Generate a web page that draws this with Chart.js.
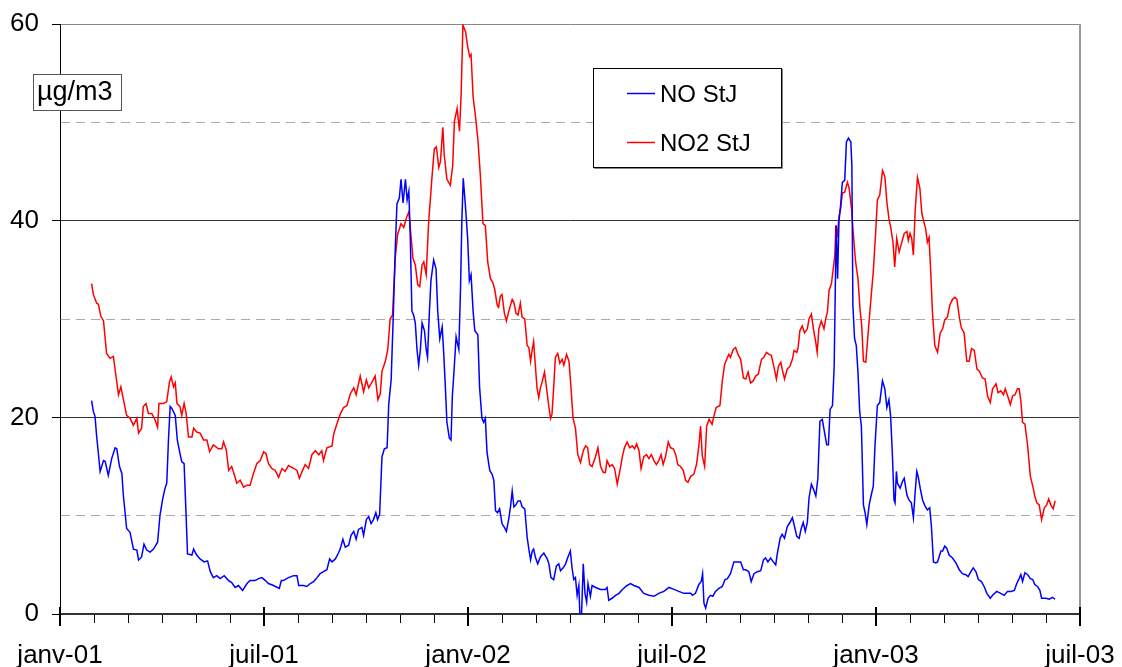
<!DOCTYPE html>
<html>
<head>
<meta charset="utf-8">
<script src="https://cdn.jsdelivr.net/npm/chart.js@4.4.1/dist/chart.umd.min.js"></script>
<style>
  body { margin: 0; background: #fff; }
  #wrap { width: 1122px; height: 667px; }
</style>
</head>
<body>
<div id="wrap"><canvas id="myChart" width="1122" height="667"></canvas></div>
<script>
// x values are months counted from janv-01 (0 = 1 Jan 2001)
var xTickLabels = ['janv-01', 'juil-01', 'janv-02', 'juil-02', 'janv-03', 'juil-03'];
var yTickLabels = [0, 20, 40, 60];
var unitLabel = 'µg/m3';

var noLabel = 'NO StJ';
var noMonths = [
    0.93, 0.98, 1.03, 1.08, 1.13, 1.18, 1.28, 1.33, 1.42, 1.52, 1.62, 1.67, 1.75, 1.82, 1.86, 1.96,
    2.06, 2.16, 2.26, 2.31, 2.40, 2.47, 2.55, 2.65, 2.75, 2.87, 2.94, 3.02, 3.09, 3.14, 3.19, 3.24,
    3.29, 3.39, 3.45, 3.53, 3.58, 3.65, 3.71, 3.75, 3.88, 3.93, 4.02, 4.12, 4.24, 4.34, 4.42, 4.51,
    4.61, 4.71, 4.83, 4.96, 5.05, 5.15, 5.25, 5.37, 5.50, 5.59, 5.74, 5.84, 5.94, 6.04, 6.13, 6.28,
    6.45, 6.51, 6.57, 6.72, 6.87, 6.97, 7.02, 7.16, 7.26, 7.36, 7.46, 7.56, 7.65, 7.75, 7.85, 7.93,
    8.00, 8.10, 8.19, 8.24, 8.32, 8.39, 8.49, 8.56, 8.64, 8.71, 8.78, 8.88, 8.93, 9.01, 9.08, 9.15,
    9.22, 9.29, 9.34, 9.40, 9.47, 9.54, 9.62, 9.67, 9.74, 9.81, 9.86, 9.91, 9.98, 10.03, 10.09, 10.16,
    10.21, 10.26, 10.30, 10.35, 10.40, 10.45, 10.50, 10.55, 10.60, 10.65, 10.72, 10.77, 10.81, 10.86, 10.91, 10.99,
    11.06, 11.11, 11.17, 11.24, 11.28, 11.33, 11.38, 11.45, 11.50, 11.54, 11.58, 11.65, 11.73, 11.78, 11.82, 11.86,
    11.92, 11.99, 12.04, 12.09, 12.15, 12.20, 12.29, 12.34, 12.41, 12.46, 12.51, 12.56, 12.64, 12.71, 12.76, 12.81,
    12.87, 12.93, 13.00, 13.07, 13.13, 13.20, 13.25, 13.30, 13.35, 13.41, 13.47, 13.54, 13.59, 13.67, 13.74, 13.79,
    13.84, 13.89, 13.93, 13.98, 14.05, 14.13, 14.23, 14.33, 14.38, 14.44, 14.52, 14.60, 14.67, 14.72, 14.80, 14.87,
    14.94, 15.01, 15.06, 15.11, 15.16, 15.21, 15.26, 15.29, 15.34, 15.39, 15.44, 15.49, 15.53, 15.60, 15.65, 15.75,
    15.90, 16.04, 16.09, 16.14, 16.24, 16.34, 16.44, 16.54, 16.68, 16.78, 16.88, 17.03, 17.17, 17.32, 17.47, 17.61,
    17.76, 17.91, 18.06, 18.20, 18.35, 18.55, 18.60, 18.69, 18.79, 18.86, 18.90, 18.94, 18.99, 19.06, 19.13, 19.20,
    19.28, 19.38, 19.48, 19.56, 19.63, 19.72, 19.82, 19.92, 20.02, 20.10, 20.17, 20.26, 20.33, 20.41, 20.51, 20.61,
    20.69, 20.75, 20.82, 20.90, 20.98, 21.05, 21.10, 21.18, 21.24, 21.31, 21.39, 21.47, 21.54, 21.59, 21.67, 21.74,
    21.80, 21.86, 21.92, 21.98, 22.03, 22.10, 22.16, 22.23, 22.29, 22.35, 22.42, 22.49, 22.55, 22.60, 22.65, 22.72,
    22.77, 22.80, 22.83, 22.87, 22.91, 22.96, 23.01, 23.08, 23.13, 23.19, 23.26, 23.29, 23.32, 23.37, 23.42, 23.47,
    23.52, 23.57, 23.63, 23.68, 23.73, 23.80, 23.86, 23.92, 23.97, 24.04, 24.11, 24.19, 24.26, 24.32, 24.38, 24.43,
    24.48, 24.53, 24.56, 24.60, 24.63, 24.71, 24.78, 24.83, 24.91, 24.97, 25.04, 25.10, 25.15, 25.20, 25.24, 25.30,
    25.37, 25.44, 25.51, 25.58, 25.63, 25.69, 25.76, 25.81, 25.91, 25.96, 26.02, 26.08, 26.15, 26.25, 26.35, 26.45,
    26.54, 26.64, 26.71, 26.79, 26.86, 26.94, 27.01, 27.10, 27.18, 27.26, 27.36, 27.43, 27.55, 27.67, 27.77, 27.87,
    27.97, 28.07, 28.14, 28.21, 28.26, 28.31, 28.38, 28.46, 28.54, 28.61, 28.67, 28.75, 28.82, 28.87, 29.00, 29.10,
    29.19, 29.27
];
var noValues = [
    21.7, 20.6, 20.1, 18.0, 16.3, 14.5, 15.6, 15.5, 14.1, 15.8, 16.9, 16.8, 15.0, 14.3, 12.2, 8.7,
    8.3, 6.6, 6.5, 5.5, 5.8, 7.1, 6.5, 6.3, 6.6, 7.3, 10.0, 11.7, 12.8, 13.3, 17.7, 21.1,
    20.9, 20.2, 17.7, 16.3, 15.5, 15.3, 9.9, 6.1, 6.0, 6.6, 6.0, 5.6, 5.3, 5.4, 4.3, 3.7,
    3.9, 3.6, 3.9, 3.4, 3.2, 2.7, 2.9, 2.4, 3.1, 3.4, 3.4, 3.6, 3.7, 3.4, 3.1, 2.9,
    2.6, 3.4, 3.4, 3.7, 3.9, 3.9, 2.9, 2.9, 2.8, 3.1, 3.3, 3.7, 4.1, 4.3, 4.5, 5.6,
    5.3, 5.6, 6.2, 6.6, 7.6, 6.8, 7.0, 8.0, 8.4, 7.6, 8.6, 8.8, 8.0, 9.6, 9.9, 9.2,
    9.6, 10.3, 9.6, 10.1, 16.0, 16.8, 16.9, 21.4, 23.8, 31.2, 37.0, 41.7, 42.3, 44.2, 41.8, 44.2,
    42.1, 43.0, 38.6, 30.8, 30.4, 29.6, 26.9, 25.3, 26.9, 29.6, 28.8, 26.9, 26.1, 30.4, 33.9, 36.0,
    35.1, 30.8, 28.0, 29.2, 26.9, 23.4, 19.5, 17.9, 17.7, 22.2, 24.2, 28.2, 26.9, 33.1, 40.1, 44.3,
    41.7, 38.2, 33.9, 34.5, 30.8, 28.8, 28.4, 23.1, 19.9, 19.5, 19.9, 16.4, 14.6, 14.2, 13.6, 10.5,
    10.3, 10.7, 9.2, 8.8, 8.4, 9.7, 10.9, 12.5, 10.9, 11.1, 11.5, 11.5, 10.9, 10.7, 7.8, 6.6,
    5.5, 6.4, 6.6, 5.8, 5.1, 5.8, 6.2, 5.6, 5.1, 3.7, 3.5, 4.9, 5.1, 4.4, 4.7, 5.1,
    5.8, 6.4, 4.7, 3.5, 3.7, 1.9, 2.9, 0.0, 0.0, 5.1, 2.1, 1.2, 3.1, 1.8, 2.9, 2.7,
    2.5, 2.5, 2.7, 1.4, 1.6, 1.9, 2.1, 2.5, 2.9, 3.1, 2.9, 2.7, 2.1, 1.9, 1.8, 2.1,
    2.3, 2.7, 2.5, 2.3, 2.1, 2.1, 1.9, 2.1, 3.0, 3.3, 4.1, 1.1, 0.6, 1.6, 1.9, 1.8,
    2.3, 2.6, 2.8, 3.5, 3.6, 4.1, 5.3, 5.3, 5.3, 4.5, 4.5, 4.3, 3.3, 4.1, 4.3, 4.4,
    5.5, 5.7, 5.3, 5.7, 5.3, 5.0, 6.2, 7.7, 8.1, 7.7, 8.9, 9.3, 9.8, 9.1, 7.9, 7.7,
    8.7, 9.3, 8.4, 9.3, 11.8, 13.2, 12.7, 12.0, 13.8, 19.6, 19.8, 18.4, 17.2, 17.2, 20.8, 21.2,
    25.2, 32.4, 39.5, 34.1, 39.9, 41.6, 43.9, 44.1, 48.0, 48.4, 48.0, 45.6, 31.4, 28.0, 27.3, 24.6,
    20.6, 19.1, 11.1, 10.3, 9.1, 11.1, 12.1, 13.0, 17.1, 21.2, 21.5, 23.7, 22.9, 21.0, 21.8, 20.1,
    16.4, 11.6, 11.3, 14.5, 13.3, 12.8, 13.5, 13.8, 12.1, 11.6, 11.3, 9.8, 12.3, 14.5, 14.0, 12.8,
    11.6, 11.0, 10.6, 10.8, 8.9, 5.3, 5.2, 5.3, 6.4, 6.4, 6.9, 6.7, 6.0, 5.7, 5.2, 4.5,
    4.1, 4.0, 3.8, 4.3, 4.7, 4.3, 3.5, 3.3, 2.8, 2.1, 1.6, 1.9, 2.3, 2.1, 1.9, 2.3,
    2.3, 2.4, 3.1, 3.6, 4.0, 3.3, 4.2, 4.0, 3.6, 3.5, 3.0, 2.8, 2.4, 1.6, 1.6, 1.5,
    1.7, 1.5
];

var no2Label = 'NO2 StJ';
var no2Months = [
    0.93, 0.98, 1.08, 1.13, 1.20, 1.28, 1.37, 1.47, 1.57, 1.65, 1.72, 1.79, 1.86, 1.96, 2.06, 2.16,
    2.26, 2.31, 2.40, 2.45, 2.53, 2.60, 2.70, 2.80, 2.87, 2.91, 3.04, 3.14, 3.22, 3.27, 3.34, 3.39,
    3.44, 3.53, 3.58, 3.65, 3.71, 3.78, 3.88, 3.93, 4.02, 4.12, 4.22, 4.32, 4.40, 4.51, 4.66, 4.76,
    4.81, 4.89, 4.96, 5.05, 5.15, 5.20, 5.30, 5.40, 5.50, 5.59, 5.69, 5.79, 5.89, 5.99, 6.06, 6.13,
    6.23, 6.33, 6.43, 6.53, 6.62, 6.72, 6.87, 6.97, 7.04, 7.11, 7.21, 7.31, 7.41, 7.51, 7.61, 7.70,
    7.75, 7.85, 8.00, 8.05, 8.14, 8.24, 8.34, 8.44, 8.54, 8.64, 8.71, 8.83, 8.93, 9.01, 9.08, 9.18,
    9.27, 9.35, 9.42, 9.47, 9.57, 9.64, 9.71, 9.78, 9.86, 9.93, 10.03, 10.11, 10.19, 10.26, 10.32, 10.38,
    10.45, 10.52, 10.58, 10.65, 10.70, 10.77, 10.84, 10.94, 11.01, 11.07, 11.14, 11.19, 11.26, 11.30, 11.38, 11.48,
    11.55, 11.60, 11.68, 11.75, 11.80, 11.85, 11.93, 11.99, 12.05, 12.09, 12.15, 12.22, 12.29, 12.36, 12.44, 12.51,
    12.58, 12.66, 12.73, 12.78, 12.86, 12.90, 12.95, 13.00, 13.07, 13.13, 13.20, 13.30, 13.35, 13.41, 13.47, 13.54,
    13.59, 13.67, 13.74, 13.79, 13.84, 13.89, 13.93, 13.98, 14.03, 14.08, 14.13, 14.18, 14.25, 14.31, 14.38, 14.43,
    14.47, 14.52, 14.57, 14.64, 14.70, 14.77, 14.82, 14.90, 14.97, 15.03, 15.09, 15.16, 15.23, 15.31, 15.39, 15.46,
    15.52, 15.58, 15.65, 15.75, 15.82, 15.90, 15.98, 16.04, 16.09, 16.17, 16.24, 16.31, 16.39, 16.47, 16.54, 16.60,
    16.68, 16.76, 16.83, 16.90, 16.96, 17.03, 17.09, 17.17, 17.25, 17.32, 17.39, 17.47, 17.54, 17.61, 17.68, 17.74,
    17.81, 17.89, 17.96, 18.04, 18.11, 18.17, 18.25, 18.33, 18.40, 18.47, 18.55, 18.64, 18.72, 18.79, 18.84, 18.89,
    18.96, 19.02, 19.09, 19.18, 19.23, 19.30, 19.41, 19.48, 19.55, 19.61, 19.67, 19.72, 19.80, 19.87, 19.94, 20.02,
    20.10, 20.17, 20.24, 20.31, 20.39, 20.46, 20.54, 20.63, 20.70, 20.78, 20.85, 20.92, 21.00, 21.07, 21.13, 21.20,
    21.24, 21.31, 21.39, 21.47, 21.54, 21.59, 21.67, 21.71, 21.76, 21.83, 21.90, 21.98, 22.03, 22.10, 22.16, 22.23,
    22.27, 22.32, 22.39, 22.47, 22.52, 22.57, 22.62, 22.69, 22.75, 22.79, 22.82, 22.86, 22.91, 22.96, 23.01, 23.08,
    23.16, 23.21, 23.28, 23.33, 23.40, 23.47, 23.53, 23.58, 23.63, 23.70, 23.77, 23.85, 23.92, 23.99, 24.04, 24.11,
    24.19, 24.26, 24.32, 24.38, 24.43, 24.50, 24.55, 24.61, 24.68, 24.75, 24.83, 24.91, 24.95, 25.00, 25.05, 25.10,
    25.15, 25.22, 25.29, 25.35, 25.42, 25.46, 25.51, 25.56, 25.61, 25.66, 25.73, 25.81, 25.89, 25.96, 26.02, 26.10,
    26.17, 26.25, 26.32, 26.38, 26.45, 26.51, 26.59, 26.67, 26.74, 26.81, 26.89, 26.97, 27.04, 27.13, 27.21, 27.28,
    27.36, 27.43, 27.53, 27.59, 27.67, 27.75, 27.80, 27.87, 27.95, 28.02, 28.09, 28.16, 28.21, 28.26, 28.31, 28.38,
    28.46, 28.54, 28.61, 28.67, 28.73, 28.80, 28.87, 28.95, 29.02, 29.08, 29.14, 29.21, 29.27
];
var no2Values = [
    33.6, 32.5, 31.6, 31.5, 30.3, 29.8, 26.5, 26.0, 26.2, 24.1, 22.3, 23.1, 21.9, 20.2, 19.9, 19.2,
    19.9, 18.4, 18.9, 21.1, 21.4, 20.4, 20.4, 19.7, 19.0, 21.4, 21.4, 21.6, 23.6, 24.1, 23.1, 23.5,
    21.4, 21.1, 20.2, 21.4, 20.4, 18.0, 18.0, 18.9, 18.5, 18.4, 17.7, 17.7, 16.5, 17.2, 16.8, 16.8,
    17.5, 16.7, 14.6, 15.0, 13.9, 13.3, 13.6, 12.9, 13.1, 13.1, 14.3, 15.3, 15.6, 16.5, 16.3, 15.3,
    14.8, 14.6, 13.9, 14.8, 14.5, 15.1, 14.8, 14.6, 13.8, 14.4, 15.2, 14.8, 16.2, 16.6, 16.2, 16.6,
    15.6, 16.9, 17.1, 18.3, 19.3, 20.3, 21.0, 21.2, 22.4, 23.0, 22.3, 24.2, 22.6, 23.8, 23.0, 23.6,
    24.2, 21.8, 22.4, 24.7, 25.7, 26.9, 30.0, 30.4, 36.2, 38.6, 39.7, 39.3, 40.3, 40.9, 38.6, 36.2,
    35.5, 33.5, 33.3, 35.5, 35.8, 34.5, 39.7, 44.4, 47.3, 47.5, 45.4, 46.0, 49.5, 46.7, 44.2, 43.6,
    45.6, 50.1, 51.4, 49.1, 53.0, 59.9, 59.2, 57.7, 56.7, 56.9, 52.6, 50.6, 48.3, 44.8, 39.7, 39.5,
    35.8, 34.1, 33.7, 33.1, 31.4, 31.2, 32.3, 32.5, 30.6, 29.8, 30.8, 32.0, 31.7, 30.6, 30.4, 31.6,
    30.2, 30.0, 27.3, 27.1, 25.7, 26.9, 27.7, 25.3, 23.0, 22.0, 23.0, 23.6, 24.6, 23.0, 21.0, 19.9,
    20.3, 23.0, 26.1, 26.5, 25.5, 25.9, 25.3, 26.4, 25.7, 23.0, 19.9, 18.9, 16.2, 15.4, 16.6, 17.1,
    16.9, 15.2, 15.0, 16.0, 16.9, 15.0, 14.4, 14.4, 15.6, 15.0, 15.2, 14.8, 13.2, 14.6, 16.0, 16.9,
    17.5, 16.9, 17.1, 16.8, 17.3, 16.6, 14.8, 16.0, 16.2, 15.8, 16.2, 15.6, 15.2, 15.6, 16.2, 15.2,
    16.0, 17.5, 16.9, 16.8, 16.2, 15.2, 15.0, 14.6, 13.6, 13.4, 14.0, 14.2, 15.2, 17.1, 19.1, 16.1,
    15.0, 19.1, 19.8, 19.3, 20.1, 21.0, 21.2, 23.7, 25.4, 25.9, 26.4, 26.1, 26.9, 27.1, 26.4, 25.9,
    24.0, 23.9, 24.6, 23.5, 23.7, 24.2, 24.4, 25.9, 26.1, 26.6, 26.4, 26.3, 25.1, 23.9, 25.2, 25.6,
    24.9, 23.9, 24.9, 25.2, 25.9, 26.8, 26.6, 27.1, 28.8, 29.3, 28.6, 29.0, 30.0, 30.5, 29.0, 27.6,
    26.6, 29.0, 29.8, 29.0, 30.0, 30.7, 32.9, 33.6, 35.3, 36.5, 39.5, 38.3, 40.4, 41.2, 42.8, 42.9,
    43.9, 43.3, 41.2, 38.8, 35.8, 34.1, 31.0, 29.3, 25.7, 25.6, 28.6, 32.0, 34.8, 38.8, 42.1, 42.6,
    45.1, 44.5, 41.9, 40.2, 39.4, 37.8, 35.3, 38.2, 36.8, 37.7, 38.7, 38.9, 38.0, 38.7, 38.2, 36.5,
    40.9, 44.4, 43.3, 40.7, 39.7, 39.2, 37.8, 38.3, 34.8, 30.7, 27.3, 26.6, 28.6, 29.0, 29.9, 30.2,
    31.4, 32.0, 32.2, 32.0, 30.2, 29.1, 28.6, 25.7, 25.7, 27.0, 26.8, 24.9, 24.7, 24.0, 23.9, 22.2,
    21.5, 22.9, 23.4, 22.5, 22.7, 22.3, 22.9, 22.2, 21.3, 22.2, 22.3, 22.9, 22.9, 21.7, 19.5, 19.3,
    17.1, 14.0, 13.0, 12.0, 11.3, 11.1, 9.6, 10.8, 11.1, 11.7, 11.1, 10.7, 11.5
];

function toPoints(months, values) {
    return months.map(function (m, i) { return { x: m, y: values[i] }; });
}

var FONT = '"Liberation Sans", Arial, sans-serif';
Chart.defaults.font.family = FONT;
Chart.defaults.font.size = 26;
Chart.defaults.color = '#000';

// unit box, legend box, right frame and the long half-year ticks
var extras = {
    id: 'extras',
    afterDraw: function (chart) {
        var ctx = chart.ctx;
        var area = chart.chartArea;
        var xs = chart.scales.x;
        ctx.save();

        ctx.strokeStyle = '#999';
        ctx.lineWidth = 2;
        ctx.beginPath();
        ctx.moveTo(area.right, area.top);
        ctx.lineTo(area.right, area.bottom + 1);
        ctx.stroke();

        ctx.strokeStyle = '#000';
        ctx.lineWidth = 2;
        for (var i = 0; i < xTickLabels.length; i++) {
            var px = Math.round(xs.getPixelForValue(i * 6));
            ctx.beginPath();
            ctx.moveTo(px, area.bottom - 7);
            ctx.lineTo(px, area.bottom + 12);
            ctx.stroke();
        }

        ctx.textBaseline = 'middle';
        ctx.textAlign = 'left';

        // unit label
        ctx.fillStyle = '#fff';
        ctx.fillRect(33, 74, 88, 36);
        ctx.strokeStyle = '#555';
        ctx.lineWidth = 1;
        ctx.strokeRect(33.5, 74.5, 88, 36);
        ctx.fillStyle = '#000';
        ctx.font = '27px ' + FONT;
        ctx.fillText(unitLabel, 37, 93);

        // legend
        ctx.font = '24px ' + FONT;
        var lx = 593, ly = 68, lw = 188, lh = 99;
        ctx.fillStyle = '#fff';
        ctx.fillRect(lx, ly, lw, lh);
        ctx.strokeStyle = '#888';
        ctx.beginPath();
        ctx.moveTo(lx + 1, ly + lh + 1.5);
        ctx.lineTo(lx + lw + 1.5, ly + lh + 1.5);
        ctx.lineTo(lx + lw + 1.5, ly + 1);
        ctx.stroke();
        ctx.strokeStyle = '#000';
        ctx.strokeRect(lx + 0.5, ly + 0.5, lw, lh);
        chart.data.datasets.forEach(function (ds, k) {
            var y = ly + 25 + k * 49;
            ctx.strokeStyle = ds.borderColor;
            ctx.lineWidth = 1.5;
            ctx.beginPath();
            ctx.moveTo(lx + 34, y + 0.5);
            ctx.lineTo(lx + 62, y + 0.5);
            ctx.stroke();
            ctx.fillStyle = '#000';
            ctx.fillText(ds.label, lx + 67, y + 2);
        });
        ctx.restore();
    }
};

var chart = new Chart(document.getElementById('myChart'), {
    type: 'line',
    data: {
        datasets: [
            {
                label: noLabel,
                data: toPoints(noMonths, noValues),
                borderColor: '#0000FF',
                borderWidth: 1.5,
                pointRadius: 0,
                tension: 0
            },
            {
                label: no2Label,
                data: toPoints(no2Months, no2Values),
                borderColor: '#FF0000',
                borderWidth: 1.5,
                pointRadius: 0,
                tension: 0
            }
        ]
    },
    options: {
        responsive: false,
        animation: false,
        layout: { padding: { top: 24, right: 42, left: 0, bottom: 0 } },
        plugins: {
            legend: { display: false },
            tooltip: { enabled: false }
        },
        scales: {
            x: {
                type: 'linear',
                min: 0,
                max: 30,
                afterFit: function (scale) {
                    scale.height = 53;
                    scale.paddingLeft = 0;
                    scale.paddingRight = 0;
                },
                ticks: {
                    stepSize: 1,
                    autoSkip: false,
                    maxRotation: 0,
                    padding: 17,
                    callback: function (v) {
                        return v % 6 === 0 ? xTickLabels[v / 6] : '';
                    }
                },
                grid: {
                    drawOnChartArea: false,
                    color: '#000',
                    tickColor: '#000',
                    tickLength: 9
                },
                border: { color: '#333', width: 2 }
            },
            y: {
                min: 0,
                max: 60,
                afterFit: function (scale) {
                    scale.width = 60;
                    scale.paddingTop = 0;
                    scale.paddingBottom = 0;
                },
                ticks: {
                    stepSize: 10,
                    padding: 13,
                    callback: function (v) {
                        return yTickLabels.indexOf(v) >= 0 ? v : '';
                    }
                },
                grid: {
                    tickLength: 8,
                    color: function (c) {
                        var v = c.tick ? c.tick.value : -1;
                        if (v === 0) return 'rgba(0,0,0,0)';
                        if (v === 60) return '#888';
                        if (v % 20 === 0) return '#333';
                        return '#aaa';
                    },
                    tickColor: function (c) {
                        var v = c.tick ? c.tick.value : -1;
                        return yTickLabels.indexOf(v) >= 0 ? '#000' : 'rgba(0,0,0,0)';
                    }
                },
                border: {
                    color: '#000',
                    width: 1,
                    dash: function (c) {
                        if (c.tick && c.tick.value % 20 !== 0) return [9, 6];
                        return [];
                    }
                }
            }
        }
    },
    plugins: [extras]
});
</script>
</body>
</html>
